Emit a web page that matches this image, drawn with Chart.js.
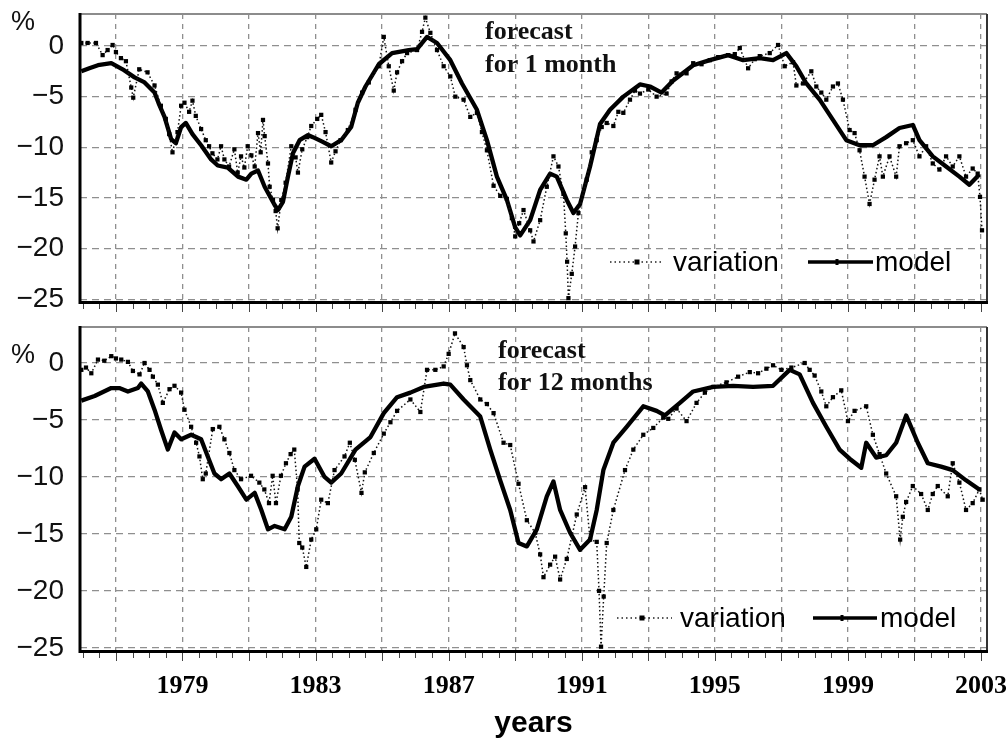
<!DOCTYPE html>
<html><head><meta charset="utf-8">
<script src="https://cdn.jsdelivr.net/npm/chart.js@4.4.0/dist/chart.umd.min.js"></script>
<style>
html,body{margin:0;padding:0;background:#fff;}
#wrap{position:relative;width:1006px;height:742px;overflow:hidden;background:#fff;}
#c1{position:absolute;left:0;top:0;}
#c2{position:absolute;left:0;top:300px;}
</style></head><body>
<div id="wrap">
<canvas id="c2" width="1006" height="442"></canvas>
<canvas id="c1" width="1006" height="320"></canvas>
</div>
<script>
// ---------- data (years, % values) ----------
const gridYears = [1977,1979,1981,1983,1985,1987,1989,1991,1993,1995,1997,1999,2001,2003];
const labelYears = [1979,1983,1987,1991,1995,1999,2003];
const yTicks = [-25,-20,-15,-10,-5,0];
const seriesNames = ['variation','model'];
const notesTop = ['forecast','for 1 month'];
const notesBottom = ['forecast','for 12 months'];
const xTitle = 'years';
const yUnit = '%';

// top panel: forecast for 1 month
const topModelYears = [
1975.96,1976.2,1976.46,1976.86,1977.2,1977.56,1977.86,1978.16,1978.3,1978.46,
1978.66,1978.8,1978.96,1979.1,1979.3,1979.56,1979.86,1980.06,1980.36,1980.67,
1980.92,1981.07,1981.27,1981.47,1981.77,1981.87,1982.02,1982.17,1982.32,1982.52,
1982.77,1982.92,1983.17,1983.47,1983.77,1984.07,1984.27,1984.5,1984.9,1985.3,
1985.8,1986.05,1986.35,1986.65,1987.05,1987.4,1987.85,1988.15,1988.45,1988.75,
1989.0,1989.15,1989.45,1989.75,1990.05,1990.25,1990.55,1990.75,1990.95,1991.25,
1991.55,1991.85,1992.25,1992.75,1993.05,1993.4,1993.75,1994.35,1994.85,1995.4,
1995.85,1996.35,1996.75,1997.15,1997.45,1997.75,1998.15,1998.55,1998.95,1999.35,
1999.75,2000.15,2000.55,2000.95,2001.15,2001.55,2001.95,2002.35,2002.65,2002.95];
const topModelValues = [
-2.5,-2.2,-1.9,-1.7,-2.3,-3.1,-3.6,-4.6,-5.8,-7.0,
-9.2,-9.6,-8.0,-7.6,-8.7,-9.8,-11.2,-11.8,-12.0,-12.9,
-13.2,-12.6,-12.3,-13.9,-15.7,-16.2,-15.4,-12.9,-10.6,-9.3,
-8.8,-9.0,-9.4,-9.9,-9.3,-8.0,-5.6,-4.0,-1.8,-0.7,
-0.4,-0.3,0.9,0.3,-1.4,-3.7,-6.3,-9.3,-12.9,-15.2,
-17.9,-18.7,-17.2,-14.2,-12.6,-12.9,-15.2,-16.5,-15.6,-11.9,
-7.7,-6.3,-5.0,-3.8,-4.0,-4.6,-3.4,-1.9,-1.4,-0.9,
-1.4,-1.2,-1.4,-0.7,-2.0,-3.7,-5.3,-7.3,-9.3,-9.8,
-9.8,-9.0,-8.1,-7.8,-9.3,-10.9,-11.9,-12.9,-13.7,-12.7];
const topVarYears = [
1975.96,1976.15,1976.4,1976.6,1976.75,1976.9,1977.0,1977.15,1977.3,1977.46,
1977.52,1977.7,1977.95,1978.16,1978.35,1978.5,1978.6,1978.7,1978.85,1978.96,
1979.06,1979.2,1979.3,1979.4,1979.56,1979.7,1979.8,1979.9,1980.05,1980.16,
1980.26,1980.4,1980.56,1980.66,1980.76,1980.86,1980.96,1981.07,1981.17,1981.27,
1981.35,1981.42,1981.47,1981.57,1981.62,1981.72,1981.8,1981.86,1981.97,1982.1,
1982.27,1982.4,1982.47,1982.6,1982.75,1982.87,1983.05,1983.17,1983.3,1983.47,
1983.6,1983.75,1983.97,1984.2,1984.4,1984.6,1984.9,1985.05,1985.2,1985.35,
1985.45,1985.6,1985.75,1986.05,1986.2,1986.3,1986.45,1986.65,1986.85,1987.05,
1987.2,1987.45,1987.65,1987.85,1988.0,1988.15,1988.35,1988.55,1988.75,1988.9,
1989.0,1989.12,1989.25,1989.45,1989.55,1989.75,1989.95,1990.15,1990.3,1990.45,
1990.52,1990.56,1990.6,1990.7,1990.8,1990.9,1991.15,1991.3,1991.45,1991.6,
1991.75,1991.95,1992.1,1992.25,1992.45,1992.6,1992.75,1993.0,1993.25,1993.55,
1993.7,1993.85,1994.15,1994.35,1994.6,1994.85,1995.1,1995.4,1995.6,1995.75,
1996.0,1996.2,1996.35,1996.65,1996.9,1997.1,1997.35,1997.45,1997.65,1997.9,
1998.05,1998.2,1998.35,1998.55,1998.7,1998.85,1999.05,1999.2,1999.35,1999.5,
1999.65,1999.8,1999.95,2000.05,2000.25,2000.45,2000.55,2000.75,2000.95,2001.15,
2001.35,2001.55,2001.75,2001.95,2002.15,2002.35,2002.55,2002.75,2002.9,2002.97,
2003.03];
const topVarValues = [
0.3,0.3,0.3,-0.9,-0.4,0.1,-0.6,-1.2,-1.5,-4.1,
-5.1,-2.3,-2.6,-3.9,-5.9,-7.2,-8.7,-10.5,-8.5,-5.9,
-5.6,-6.5,-5.4,-6.9,-8.2,-9.3,-9.9,-10.6,-11.2,-9.9,
-11.2,-11.9,-10.2,-12.5,-10.9,-12.0,-9.9,-10.8,-11.9,-8.6,
-10.5,-7.3,-8.9,-11.6,-13.9,-15.2,-16.3,-18.0,-15.2,-13.5,
-9.9,-11.0,-12.5,-10.2,-9.0,-7.9,-7.2,-6.8,-8.5,-11.5,
-10.4,-9.3,-8.3,-6.3,-4.6,-3.6,-2.0,0.9,-2.0,-4.4,
-2.6,-1.5,-0.7,-0.4,1.4,2.8,1.3,-0.4,-2.0,-3.0,
-5.0,-5.3,-7.0,-6.6,-8.5,-10.3,-13.8,-14.8,-15.1,-17.0,
-18.8,-17.5,-16.2,-18.2,-19.3,-17.2,-13.9,-10.9,-11.9,-14.6,
-18.5,-21.3,-24.9,-22.5,-19.8,-16.5,-13.2,-10.5,-9.3,-8.0,
-7.6,-7.9,-6.5,-6.6,-5.3,-4.4,-4.7,-4.3,-5.0,-4.7,
-3.5,-2.7,-2.7,-1.7,-1.8,-1.4,-1.1,-0.9,-0.8,-0.2,
-2.2,-1.3,-1.0,-0.7,0.1,-2.0,-1.6,-3.9,-3.7,-2.5,
-4.0,-4.6,-5.3,-4.0,-3.7,-5.3,-8.3,-8.6,-10.3,-12.9,
-15.6,-13.2,-10.9,-12.9,-10.9,-12.9,-9.9,-9.6,-9.3,-10.9,
-9.9,-11.6,-12.2,-10.9,-11.9,-10.9,-12.9,-12.1,-12.6,-14.9,
-18.2];

// bottom panel: forecast for 12 months
const botModelYears = [
1975.96,1976.36,1976.86,1977.1,1977.36,1977.66,1977.76,1977.96,1978.16,1978.36,
1978.56,1978.76,1978.96,1979.26,1979.56,1979.76,1979.96,1980.16,1980.41,1980.66,
1980.92,1981.17,1981.37,1981.57,1981.77,1982.07,1982.27,1982.47,1982.67,1982.97,
1983.27,1983.47,1983.77,1984.2,1984.65,1985.05,1985.45,1985.85,1986.25,1986.85,
1987.05,1987.45,1987.95,1988.25,1988.55,1988.85,1989.1,1989.35,1989.65,1989.95,
1990.15,1990.35,1990.65,1990.95,1991.25,1991.45,1991.65,1991.95,1992.35,1992.85,
1993.25,1993.5,1993.95,1994.35,1994.95,1995.55,1996.15,1996.75,1997.25,1997.55,
1997.95,1998.35,1998.75,1999.05,1999.4,1999.55,1999.85,2000.15,2000.45,2000.75,
2001.1,2001.4,2001.8,2002.15,2002.55,2002.95];
const botModelValues = [
-3.3,-2.9,-2.2,-2.2,-2.5,-2.2,-1.8,-2.5,-4.1,-5.9,
-7.6,-6.1,-6.7,-6.3,-6.7,-8.2,-9.7,-10.2,-9.7,-10.8,
-12.0,-11.4,-12.9,-14.6,-14.3,-14.6,-13.5,-10.8,-9.1,-8.4,
-10.0,-10.5,-9.7,-7.6,-6.5,-4.4,-3.0,-2.6,-2.1,-1.8,
-1.9,-3.2,-4.7,-7.6,-10.3,-12.9,-15.8,-16.1,-14.6,-11.7,
-10.4,-12.9,-14.9,-16.4,-15.5,-12.9,-9.4,-7.0,-5.6,-3.8,
-4.2,-4.6,-3.5,-2.5,-2.1,-2.0,-2.1,-2.0,-0.6,-1.0,
-3.5,-5.6,-7.6,-8.4,-9.2,-7.0,-8.3,-8.1,-7.0,-4.6,
-7.0,-8.8,-9.1,-9.4,-10.3,-11.1];
const botVarYears = [
1975.96,1976.1,1976.26,1976.46,1976.65,1976.86,1977.0,1977.16,1977.36,1977.51,
1977.71,1977.86,1978.01,1978.11,1978.26,1978.41,1978.61,1978.76,1978.96,1979.06,
1979.26,1979.41,1979.51,1979.61,1979.7,1979.91,1980.11,1980.26,1980.41,1980.56,
1980.76,1981.06,1981.31,1981.46,1981.6,1981.71,1981.81,1981.96,1982.11,1982.25,
1982.36,1982.46,1982.51,1982.6,1982.72,1982.87,1983.02,1983.17,1983.37,1983.57,
1983.87,1984.03,1984.18,1984.38,1984.48,1984.75,1985.05,1985.25,1985.45,1985.85,
1986.15,1986.35,1986.6,1986.85,1987.0,1987.19,1987.45,1987.55,1987.65,1987.95,
1988.15,1988.35,1988.65,1988.85,1989.1,1989.35,1989.6,1989.75,1989.85,1990.05,
1990.2,1990.35,1990.55,1990.85,1991.1,1991.25,1991.45,1991.52,1991.58,1991.66,
1991.75,1991.95,1992.3,1992.55,1992.85,1993.15,1993.45,1993.6,1993.85,1994.15,
1994.45,1994.7,1994.95,1995.35,1995.7,1996.05,1996.3,1996.55,1996.75,1997.0,
1997.3,1997.7,1997.85,1998.0,1998.2,1998.35,1998.55,1998.8,1999.0,1999.2,
1999.55,1999.75,1999.95,2000.15,2000.45,2000.57,2000.65,2000.75,2000.95,2001.2,
2001.4,2001.55,2001.7,2002.0,2002.15,2002.35,2002.55,2002.75,2002.95,2003.05];
const botVarValues = [
-0.6,-0.4,-0.9,0.3,0.2,0.6,0.4,0.3,0.1,-0.7,
-1.0,0.0,-0.6,-1.2,-1.9,-3.5,-2.3,-2.0,-2.6,-4.1,
-5.6,-7.0,-8.2,-10.2,-9.7,-5.8,-5.6,-6.7,-7.9,-9.4,
-10.2,-9.9,-10.5,-11.1,-12.3,-9.9,-12.3,-9.9,-8.8,-8.0,
-7.6,-11.1,-15.8,-16.2,-17.9,-15.5,-14.6,-12.0,-12.3,-9.4,
-8.2,-7.0,-8.5,-11.4,-9.6,-7.9,-6.2,-5.2,-4.2,-3.2,
-4.3,-0.6,-0.6,-0.3,0.8,2.6,1.4,-0.2,-1.5,-3.2,
-3.6,-4.4,-7.0,-7.2,-10.6,-13.8,-14.9,-16.8,-18.8,-17.7,
-17.0,-19.0,-17.2,-13.3,-10.9,-15.5,-15.7,-20.0,-24.9,-20.5,
-15.8,-12.9,-9.4,-7.6,-6.3,-5.7,-4.8,-4.9,-4.0,-5.1,
-3.5,-2.6,-2.1,-1.7,-1.2,-0.8,-0.9,-0.5,-0.2,-0.6,
-0.4,0.0,-0.6,-1.1,-2.5,-3.8,-3.0,-2.4,-5.1,-4.2,
-3.8,-6.3,-8.0,-9.7,-11.7,-15.5,-13.5,-12.2,-10.8,-11.5,
-12.9,-11.5,-10.8,-11.7,-8.8,-10.5,-12.9,-12.3,-11.1,-12.0];

// ---------- helpers ----------
function toPts(xs, ys) {
  const n = Math.min(xs.length, ys.length);
  const out = [];
  for (let i = 0; i < n; i++) out.push({x: xs[i], y: ys[i]});
  return out;
}
const SANS = '"Liberation Sans", Arial, Helvetica, sans-serif';
const SERIF = '"Liberation Serif", "Times New Roman", serif';

function decor(cfg) {
  return {
    id: 'decor',
    afterDraw(chart) {
      const c = chart.ctx, a = chart.chartArea, xs = chart.scales.x;
      const oy = cfg.offY;
      const seg = (x1, y1, x2, y2) => { c.beginPath(); c.moveTo(x1, y1); c.lineTo(x2, y2); c.stroke(); };
      c.save();
      c.setLineDash([]);
      // plot frame
      c.strokeStyle = '#8c8c8c'; c.lineWidth = 2;
      seg(a.left, a.top, a.right, a.top);
      c.strokeStyle = '#333'; c.lineWidth = 2;
      seg(a.right, a.top, a.right, a.bottom);
      c.strokeStyle = '#000'; c.lineWidth = 3;
      seg(a.left, a.top - 1, a.left, a.bottom + 2);
      seg(a.left - 1, a.bottom + 0.5, a.right + 1, a.bottom + 0.5);
      // small tick marks under the x axis (every half year)
      c.lineWidth = 1; c.strokeStyle = '#444';
      for (let t = 1976; t <= 2003.01; t += 0.5) {
        const px = Math.round(xs.getPixelForValue(t)) + 0.5;
        const major = gridYears.includes(t);
        seg(px, a.bottom + 2, px, a.bottom + (major ? 10 : 7));
      }
      // unit label
      c.fillStyle = '#111';
      c.font = '27px ' + SANS;
      c.textBaseline = 'middle'; c.textAlign = 'left';
      c.fillText(yUnit, 11, cfg.pctY - oy);
      // panel note
      c.font = 'bold 26px ' + SERIF;
      c.textBaseline = 'alphabetic';
      c.fillText(cfg.notes[0], cfg.noteX, cfg.noteY1 - oy);
      c.fillText(cfg.notes[1], cfg.noteX, cfg.noteY2 - oy);
      // legend
      const L = cfg.legend, ly = L.y - oy;
      c.strokeStyle = '#222'; c.lineWidth = 1.4; c.setLineDash([1.5, 3]);
      seg(L.v1, ly, L.v2, ly);
      c.setLineDash([]);
      c.fillStyle = '#000';
      c.fillRect(L.vm - 2.5, ly - 2.5, 5, 5);
      c.font = '28px ' + SANS; c.textBaseline = 'middle';
      c.fillText(chart.data.datasets[0].label, L.vt, ly + 1);
      c.strokeStyle = '#000'; c.lineWidth = 3.5;
      seg(L.m1, ly, L.m2, ly);
      c.fillRect(L.mm - 1.5, ly - 3, 3, 6);
      c.fillText(chart.data.datasets[1].label, L.mt, ly + 1);
      c.restore();
    }
  };
}

function build(id, cfg) {
  return new Chart(document.getElementById(id), {
    type: 'line',
    data: {
      datasets: [
        { label: seriesNames[0], data: toPts(cfg.varX, cfg.varY),
          borderColor: '#111', borderWidth: 1.5, borderDash: [1.5, 2.5],
          pointStyle: 'rect', pointRadius: 3, pointBackgroundColor: '#000',
          pointBorderWidth: 0, tension: 0, order: 1 },
        { label: seriesNames[1], data: toPts(cfg.modX, cfg.modY),
          borderColor: '#000', borderWidth: 4.3, pointRadius: 0,
          borderJoinStyle: 'round', tension: 0, order: 2 }
      ]
    },
    options: {
      responsive: false, animation: false, devicePixelRatio: 1, events: [],
      layout: { padding: { top: cfg.padTop, right: 19, left: 0, bottom: 0 } },
      plugins: { legend: { display: false }, tooltip: { enabled: false } },
      scales: {
        x: {
          type: 'linear', min: 1975.92, max: 2003.18,
          afterBuildTicks: s => { s.ticks = gridYears.map(v => ({ value: v })); },
          afterFit: s => { s.height = cfg.xH; s.paddingLeft = 0; s.paddingRight = 0; },
          grid: { color: '#8f8f8f', lineWidth: 1.3, drawTicks: false },
          border: { display: false, dash: [5, 5] },
          ticks: { display: cfg.showX, padding: 20, autoSkip: false, maxRotation: 0,
                   font: { family: SERIF, size: 26, weight: 'bold' }, color: '#000',
                   callback: v => labelYears.includes(v) ? String(v) : '' },
          title: { display: cfg.showX, text: xTitle, color: '#000', padding: 0,
                   font: { family: SANS, size: 30, weight: 'bold' } }
        },
        y: {
          min: -25.28, max: 3.16,
          afterBuildTicks: s => { s.ticks = yTicks.map(v => ({ value: v })); },
          afterFit: s => { s.width = 80; s.paddingTop = 0; s.paddingBottom = 0; },
          grid: { color: '#8f8f8f', lineWidth: 1.3, drawTicks: false },
          border: { display: false, dash: [7, 5] },
          ticks: { padding: 16, font: { family: SANS, size: 28 }, color: '#111',
                   callback: v => String(v).replace('-', '\u2212') }
        }
      }
    },
    plugins: [decor(cfg)]
  });
}

build('c1', {
  varX: topVarYears, varY: topVarValues, modX: topModelYears, modY: topModelValues,
  padTop: 14, xH: 18, showX: false, offY: 0, pctY: 23,
  notes: notesTop, noteX: 485, noteY1: 39, noteY2: 72,
  legend: { y: 262, v1: 610, v2: 663, vm: 637, vt: 673, m1: 808, m2: 873, mm: 837, mt: 875 }
});
build('c2', {
  varX: botVarYears, varY: botVarValues, modX: botModelYears, modY: botModelValues,
  padTop: 27, xH: 91, showX: true, offY: 300, pctY: 356,
  notes: notesBottom, noteX: 498, noteY1: 358, noteY2: 390,
  legend: { y: 618, v1: 617, v2: 672, vm: 642, vt: 680, m1: 813, m2: 877, mm: 842, mt: 880 }
});
</script>
</body></html>
